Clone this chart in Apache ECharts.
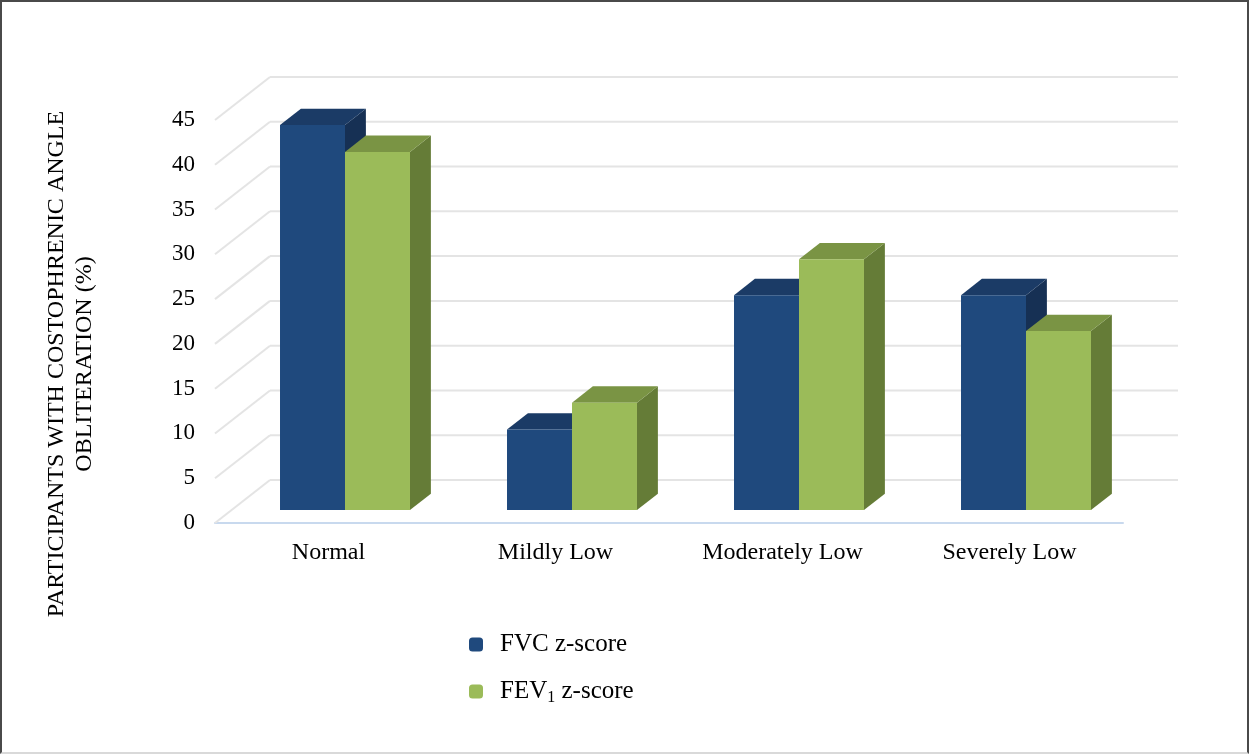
<!DOCTYPE html>
<html>
<head>
<meta charset="utf-8">
<script src="https://cdn.jsdelivr.net/npm/echarts@6/dist/echarts.min.js"></script>
<style>
  html, body { margin: 0; padding: 0; background: #fff; }
  #wrap { position: relative; width: 1249px; height: 754px; }
  #chart { position: absolute; left: 0; top: 0; width: 1249px; height: 754px; }
  #frame {
    position: absolute; left: 0; top: 0; width: 1249px; height: 754px;
    box-sizing: border-box; pointer-events: none;
    border-top: 2px solid #4a4a4a; border-left: 2px solid #4a4a4a;
    border-right: 2px solid #4a4a4a; border-bottom: 2px solid #d9d9d9;
  }
</style>
</head>
<body>
<div id="wrap">
  <div id="chart"></div>
  <div id="frame"></div>
</div>
<script>
// Categories and values (% of participants with costophrenic angle obliteration)
const categories = ['Normal', 'Mildly Low', 'Moderately Low', 'Severely Low'];
const fvcValues = [43, 9, 24, 24];
const fev1Values = [40, 12, 28, 20];
const yTicks = [0, 5, 10, 15, 20, 25, 30, 35, 40, 45];

const FONT = "'Liberation Serif', 'Times New Roman', serif";

// Oblique depth of the 3D box (pixels from front plane to back wall)
const DEPTH = { dx: 55, dy: -43 };
const BAR_FRONT = 0.30;   // bar front face as fraction of depth
const BAR_DEPTH = 0.38;   // bar thickness as fraction of depth
const BAR_W = 0.2863;     // bar width as fraction of category band

const FVC_COLORS = { front: '#1f497d', top: '#1b3b66', side: '#163054' };
const FEV_COLORS = { front: '#9bbb59', top: '#7a9444', side: '#657c37' };

function barRenderer(slot, c) {
  return function (params, api) {
    const ci = api.value(0), v = api.value(1);
    const base = api.coord([ci, 0]);
    const top = api.coord([ci, v]);
    const band = api.size([1, 0])[0];
    const w = band * BAR_W;
    const fx = DEPTH.dx * BAR_FRONT, fy = DEPTH.dy * BAR_FRONT;
    const bdx = DEPTH.dx * BAR_DEPTH, bdy = DEPTH.dy * BAR_DEPTH;
    const xl = base[0] - w + slot * w + fx;
    const xr = xl + w;
    const yb = base[1] + fy, yt = top[1] + fy;
    return {
      type: 'group',
      children: [
        { type: 'polygon', shape: { points: [[xr, yt], [xr + bdx, yt + bdy], [xr + bdx, yb + bdy], [xr, yb]] },
          style: { fill: c.side } },
        { type: 'polygon', shape: { points: [[xl, yt], [xr, yt], [xr + bdx, yt + bdy], [xl + bdx, yt + bdy]] },
          style: { fill: c.top } },
        { type: 'rect', shape: { x: xl, y: yt, width: w, height: yb - yt },
          style: { fill: c.front } }
      ]
    };
  };
}

function wallRenderer(params, api) {
  const v = api.value(1);
  const cs = params.coordSys;
  const y = api.coord([0, v])[1];
  const x0 = cs.x;
  const x1 = cs.x + cs.width;
  const style = { stroke: '#e4e4e4', lineWidth: 2, fill: null };
  return {
    type: 'group',
    children: [
      { type: 'line', shape: { x1: x0, y1: y, x2: x0 + DEPTH.dx, y2: y + DEPTH.dy }, style: style },
      { type: 'line', shape: { x1: x0 + DEPTH.dx, y1: y + DEPTH.dy, x2: x1 + DEPTH.dx, y2: y + DEPTH.dy }, style: style }
    ]
  };
}

const chart = echarts.init(document.getElementById('chart'), null, { renderer: 'canvas' });

chart.setOption({
  animation: false,
  backgroundColor: '#ffffff',
  textStyle: { fontFamily: FONT },
  grid: { left: 215, right: 126, top: 120, bottom: 231 },
  xAxis: {
    type: 'category',
    data: categories,
    boundaryGap: true,
    axisLine: { show: true, lineStyle: { color: '#c8d9ee', width: 2 } },
    axisTick: { show: false },
    axisLabel: { color: '#000', fontSize: 24, fontFamily: FONT, margin: 18 },
    splitLine: { show: false }
  },
  yAxis: {
    type: 'value',
    min: 0, max: 45, interval: 5,
    axisLine: { show: false },
    axisTick: { show: false },
    splitLine: { show: false },
    axisLabel: { color: '#000', fontSize: 23, fontFamily: FONT, margin: 20 }
  },
  legend: {
    orient: 'vertical',
    left: 464, top: 627,
    itemWidth: 14, itemHeight: 14,
    itemGap: 22,
    icon: 'roundRect',
    data: ['FVC z-score', 'FEV1 z-score'],
    formatter: function (name) {
      if (name === 'FEV1 z-score') return '{t|FEV}{s|1}{t| z-score}';
      return '{t|' + name + '}';
    },
    textStyle: {
      padding: [0, 0, 0, 12],
      rich: {
        t: { fontSize: 25, fontFamily: FONT, color: '#000', lineHeight: 26 },
        s: { fontSize: 16, fontFamily: FONT, color: '#000', verticalAlign: 'bottom', padding: [12, 0, 0, 0] }
      }
    }
  },
  graphic: [
    {
      type: 'text',
      x: 71, y: 364,
      rotation: Math.PI / 2,
      style: {
        text: 'PARTICIPANTS WITH COSTOPHRENIC ANGLE\nOBLITERATION (%)',
        fontFamily: FONT, fontSize: 24, lineHeight: 28,
        fill: '#000', align: 'center', verticalAlign: 'middle'
      }
    }
  ],
  series: [
    {
      name: 'walls',
      type: 'custom',
      silent: true,
      z: 1,
      data: yTicks.map(v => [0, v]),
      renderItem: wallRenderer
    },
    {
      name: 'FVC z-score',
      type: 'custom',
      z: 3,
      itemStyle: { color: FVC_COLORS.front },
      data: fvcValues.map((v, i) => [i, v]),
      renderItem: barRenderer(0, FVC_COLORS)
    },
    {
      name: 'FEV1 z-score',
      type: 'custom',
      z: 4,
      itemStyle: { color: FEV_COLORS.front },
      data: fev1Values.map((v, i) => [i, v]),
      renderItem: barRenderer(1, FEV_COLORS)
    }
  ]
});
</script>
</body>
</html>
